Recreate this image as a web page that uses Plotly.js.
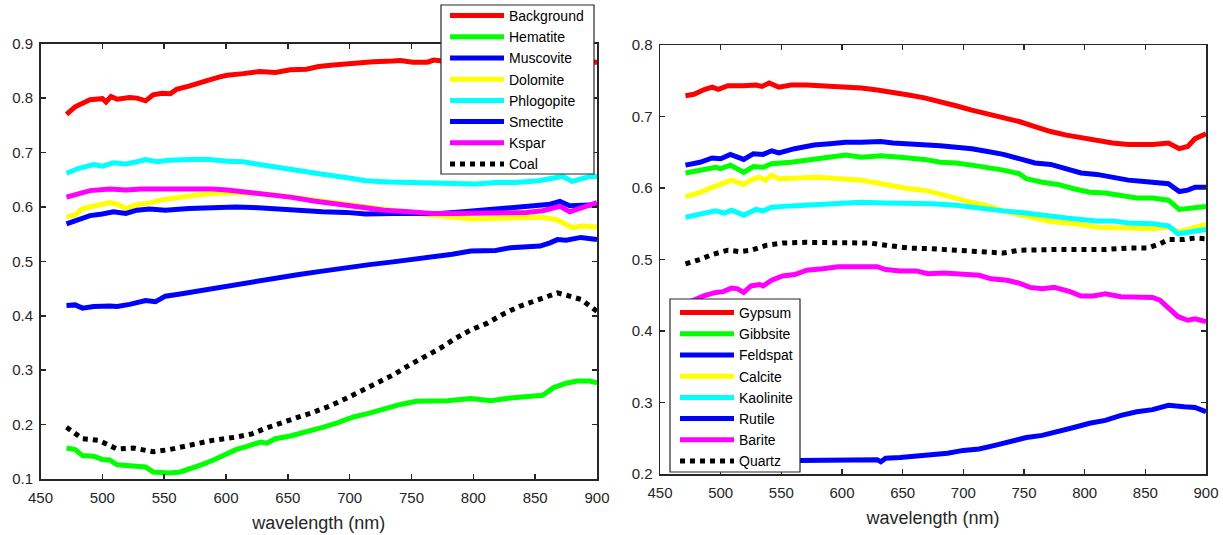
<!DOCTYPE html>
<html>
<head>
<meta charset="utf-8">
<script src="https://cdn.plot.ly/plotly-3.0.1.min.js"></script>
<style>
html,body{margin:0;padding:0;background:#fff;}
#chart{width:1223px;height:535px;}
</style>
</head>
<body>
<div id="chart"></div>
<script>
// ---------- Left panel data ----------
const backgroundX = [471,478,490,500,503,507,512,522,528,535,541,548,555,560,570,576,586,595,601,614,627,640,652,665,675,687,703,719,735,741,751,763,768,780,800,820,840,860,880,900];
const backgroundY = [0.770,0.784,0.797,0.799,0.793,0.803,0.798,0.801,0.800,0.795,0.806,0.809,0.808,0.816,0.822,0.827,0.833,0.839,0.842,0.845,0.849,0.847,0.852,0.853,0.858,0.861,0.865,0.867,0.868,0.869,0.866,0.866,0.870,0.867,0.868,0.867,0.868,0.869,0.867,0.866];

const hematiteX = [471,478,484,493,500,506,512,522,535,541,547,554,563,570,580,589,598,608,617,628,633,640,652,665,678,690,703,716,728,741,754,767,779,798,814,830,843,856,865,875,884,894,900];
const hematiteY = [0.157,0.154,0.143,0.142,0.136,0.135,0.126,0.124,0.122,0.113,0.111,0.111,0.113,0.118,0.126,0.134,0.144,0.154,0.160,0.168,0.166,0.174,0.179,0.186,0.195,0.203,0.214,0.221,0.229,0.237,0.243,0.243,0.244,0.248,0.244,0.249,0.252,0.254,0.268,0.276,0.280,0.280,0.277];

const muscoviteX = [471,478,484,493,506,512,522,535,543,551,563,576,589,601,614,630,640,659,678,697,716,735,754,767,783,798,818,830,843,854,862,868,875,887,900];
const muscoviteY = [0.419,0.420,0.414,0.417,0.418,0.417,0.421,0.428,0.426,0.436,0.440,0.445,0.450,0.455,0.460,0.465,0.470,0.476,0.482,0.489,0.494,0.499,0.504,0.507,0.513,0.519,0.520,0.525,0.527,0.528,0.534,0.540,0.539,0.544,0.540];

const dolomiteX = [471,478,484,497,506,512,519,528,538,548,563,576,595,608,621,640,659,678,697,716,735,754,773,792,798,818,837,856,868,880,887,900];
const dolomiteY = [0.582,0.585,0.597,0.604,0.608,0.605,0.597,0.604,0.607,0.613,0.618,0.622,0.625,0.626,0.626,0.622,0.616,0.611,0.605,0.599,0.593,0.588,0.584,0.581,0.578,0.579,0.579,0.581,0.576,0.562,0.565,0.563];

const phlogopiteX = [471,481,493,500,509,519,528,535,544,554,570,586,601,614,627,646,665,678,697,713,732,751,770,786,802,818,834,853,868,872,880,887,894,900];
const phlogopiteY = [0.662,0.671,0.678,0.675,0.681,0.679,0.683,0.687,0.683,0.686,0.687,0.687,0.684,0.683,0.678,0.671,0.663,0.660,0.654,0.648,0.646,0.645,0.642,0.643,0.642,0.645,0.645,0.648,0.654,0.656,0.647,0.651,0.656,0.656];

const smectiteX = [471,481,490,500,509,519,528,538,551,570,589,608,621,640,659,678,697,713,735,754,773,792,811,830,849,862,870,878,887,900];
const smectiteY = [0.569,0.576,0.584,0.587,0.591,0.588,0.594,0.596,0.594,0.597,0.599,0.600,0.599,0.596,0.593,0.591,0.590,0.587,0.588,0.588,0.588,0.591,0.594,0.597,0.602,0.605,0.610,0.602,0.602,0.604];

const ksparX = [471,481,490,506,519,532,544,557,570,589,601,614,633,652,671,691,709,728,748,767,786,805,824,843,856,870,878,887,900];
const ksparY = [0.618,0.625,0.630,0.633,0.631,0.633,0.633,0.635,0.634,0.633,0.631,0.628,0.623,0.618,0.611,0.605,0.599,0.594,0.591,0.588,0.588,0.588,0.588,0.590,0.593,0.601,0.591,0.597,0.608];

const coalX = [471,484,497,512,525,541,554,570,589,608,621,633,646,659,671,684,697,709,722,735,748,760,773,786,798,811,824,837,849,862,868,878,887,900];
const coalY = [0.195,0.174,0.171,0.155,0.157,0.150,0.154,0.162,0.171,0.177,0.183,0.194,0.205,0.214,0.223,0.234,0.248,0.261,0.276,0.291,0.309,0.323,0.340,0.359,0.374,0.386,0.403,0.417,0.426,0.436,0.442,0.436,0.430,0.408];

// ---------- Right panel data ----------
const gypsumX = [471,478,487,493,498,506,519,529,534,540,548,558,571,590,603,616,629,642,655,668,681,694,707,720,733,746,759,772,785,797,810,823,836,856,869,878,885,891,900];
const gypsumY = [0.729,0.731,0.738,0.741,0.738,0.743,0.743,0.744,0.742,0.747,0.741,0.744,0.744,0.743,0.742,0.740,0.737,0.734,0.730,0.726,0.721,0.715,0.709,0.704,0.698,0.693,0.686,0.679,0.674,0.670,0.666,0.663,0.661,0.661,0.663,0.655,0.658,0.669,0.676];

const gibbsiteX = [471,483,496,500,508,519,527,535,542,558,577,590,603,616,632,648,668,681,694,707,720,733,746,752,765,778,791,804,817,830,843,856,869,878,887,900];
const gibbsiteY = [0.621,0.625,0.629,0.627,0.632,0.622,0.630,0.629,0.634,0.636,0.640,0.642,0.646,0.643,0.645,0.643,0.640,0.636,0.635,0.632,0.629,0.625,0.620,0.613,0.608,0.605,0.599,0.594,0.593,0.589,0.586,0.586,0.583,0.570,0.571,0.574];

const feldspatX = [471,483,493,500,508,519,527,535,542,548,561,577,590,603,616,632,642,655,668,681,694,707,720,733,746,759,772,785,797,810,823,836,849,862,869,878,885,891,900];
const feldspatY = [0.632,0.636,0.642,0.641,0.647,0.640,0.648,0.647,0.652,0.649,0.655,0.660,0.662,0.664,0.664,0.665,0.663,0.662,0.660,0.659,0.657,0.655,0.651,0.647,0.641,0.635,0.633,0.627,0.621,0.619,0.615,0.611,0.609,0.607,0.606,0.595,0.597,0.601,0.601];

const calciteX = [471,483,493,503,509,519,525,532,537,542,548,564,577,590,603,616,629,642,655,668,681,694,707,720,733,746,759,772,785,797,810,823,840,856,869,878,887,900];
const calciteY = [0.588,0.594,0.601,0.607,0.611,0.605,0.611,0.615,0.611,0.618,0.613,0.614,0.615,0.614,0.613,0.611,0.607,0.603,0.599,0.597,0.591,0.585,0.580,0.575,0.568,0.563,0.558,0.553,0.551,0.549,0.545,0.544,0.543,0.543,0.545,0.539,0.543,0.549];

const kaoliniteX = [471,483,496,503,509,519,529,535,542,558,577,590,603,616,636,655,674,694,707,720,733,746,759,772,785,797,810,823,836,856,869,877,887,900];
const kaoliniteY = [0.559,0.563,0.568,0.565,0.569,0.562,0.570,0.568,0.573,0.575,0.577,0.579,0.580,0.580,0.579,0.579,0.578,0.576,0.573,0.571,0.568,0.566,0.563,0.561,0.558,0.556,0.554,0.554,0.551,0.550,0.547,0.536,0.538,0.542];

const rutileX = [471,490,510,530,550,565,577,590,603,613,629,632,636,648,661,674,687,700,713,726,739,752,765,778,791,804,817,830,843,856,869,882,891,900];
const rutileY = [0.222,0.221,0.220,0.220,0.219,0.219,0.219,0.219,0.220,0.220,0.220,0.217,0.222,0.223,0.225,0.227,0.229,0.233,0.235,0.240,0.245,0.251,0.254,0.259,0.265,0.271,0.275,0.282,0.287,0.290,0.296,0.294,0.293,0.287];

const bariteX = [471,477,486,496,502,509,514,519,525,532,535,542,551,561,571,584,597,606,619,629,636,648,661,671,684,697,713,723,736,746,755,765,775,788,797,807,817,830,843,856,862,869,877,885,891,900];
const bariteY = [0.438,0.443,0.449,0.454,0.455,0.460,0.459,0.454,0.463,0.465,0.463,0.471,0.477,0.479,0.485,0.487,0.490,0.490,0.490,0.490,0.486,0.484,0.484,0.480,0.481,0.479,0.478,0.473,0.471,0.467,0.461,0.459,0.461,0.455,0.449,0.449,0.452,0.448,0.448,0.447,0.443,0.433,0.420,0.415,0.417,0.413];

const quartzX = [471,483,493,506,516,525,538,551,571,590,606,623,636,655,674,694,713,733,746,759,778,797,817,836,852,862,869,882,891,900];
const quartzY = [0.494,0.500,0.507,0.513,0.511,0.513,0.520,0.523,0.524,0.524,0.524,0.523,0.520,0.516,0.515,0.513,0.510,0.509,0.513,0.514,0.514,0.514,0.514,0.516,0.516,0.522,0.528,0.528,0.530,0.529];

const leftNames  = ['Background','Hematite','Muscovite','Dolomite','Phlogopite','Smectite','Kspar','Coal'];
const rightNames = ['Gypsum','Gibbsite','Feldspat','Calcite','Kaolinite','Rutile','Barite','Quartz'];
const seriesColors = ['#FF0000','#00FF00','#0000FF','#FFFF00','#00FFFF','#0000FF','#FF00FF','#000000'];

const leftData = [[backgroundX,backgroundY],[hematiteX,hematiteY],[muscoviteX,muscoviteY],[dolomiteX,dolomiteY],[phlogopiteX,phlogopiteY],[smectiteX,smectiteY],[ksparX,ksparY],[coalX,coalY]];
const rightData = [[gypsumX,gypsumY],[gibbsiteX,gibbsiteY],[feldspatX,feldspatY],[calciteX,calciteY],[kaoliniteX,kaoliniteY],[rutileX,rutileY],[bariteX,bariteY],[quartzX,quartzY]];

const LW = 5;
const traces = [];
leftData.forEach((d,i)=>{
  traces.push({x:d[0],y:d[1],name:leftNames[i],type:'scatter',mode:'lines',
    xaxis:'x',yaxis:'y',legend:'legend',
    line:{color:seriesColors[i],width:LW,dash:i===7?'dot':'solid'}});
});
rightData.forEach((d,i)=>{
  traces.push({x:d[0],y:d[1],name:rightNames[i],type:'scatter',mode:'lines',
    xaxis:'x2',yaxis:'y2',legend:'legend2',
    line:{color:seriesColors[i],width:LW,dash:i===7?'dot':'solid'}});
});

const FONT = 'Liberation Sans, Arial, Helvetica, sans-serif';
const AX = '#262626';
function xAxis(domain, anchor){
  return {domain:domain, anchor:anchor, range:[450,900], tick0:450, dtick:50,
    showgrid:false, zeroline:false, showline:true, mirror:'ticks', linecolor:AX, linewidth:1.5,
    ticks:'inside', ticklen:5, tickwidth:1.5, tickcolor:AX, ticklabelstandoff:4,
    tickfont:{family:FONT,size:15,color:AX},
    title:{text:'wavelength (nm)', font:{family:FONT,size:18,color:AX}, standoff:12}};
}
function yAxis(domain, anchor, range){
  return {domain:domain, anchor:anchor, range:range, tick0:0, dtick:0.1,
    showgrid:false, zeroline:false, showline:true, mirror:'ticks', linecolor:AX, linewidth:1.5,
    ticks:'inside', ticklen:5, tickwidth:1.5, tickcolor:AX, ticklabelstandoff:3,
    tickfont:{family:FONT,size:15,color:AX}};
}

const W = 1223, H = 535;
function box(x0,x1,y0,y1){
  return {type:'rect', xref:'paper', yref:'paper', layer:'above',
    x0:x0/W, x1:x1/W, y0:1-y1/H, y1:1-y0/H,
    fillcolor:'#fff', line:{color:AX,width:1.2}};
}
function legendCfg(x,y){
  return {x:x/W, y:1-y/H, xanchor:'left', yanchor:'top', bgcolor:'rgba(0,0,0,0)',
    borderwidth:0, font:{family:FONT,size:14,color:'#000'},
    itemwidth:54, tracegroupgap:0};
}
const layout = {
  width:W, height:H,
  margin:{l:0,r:0,t:0,b:0},
  paper_bgcolor:'#fff', plot_bgcolor:'#fff',
  font:{family:FONT,color:AX},
  showlegend:true,
  xaxis: xAxis([40.5/W, 597/W], 'y'),
  yaxis: yAxis([1-479/H, 1-43.7/H], 'x', [0.1,0.9]),
  xaxis2: xAxis([660/W, 1206/W], 'y2'),
  yaxis2: yAxis([1-474/H, 1-45/H], 'x2', [0.2,0.8]),
  shapes:[box(441,594,5,174), box(670,800,299,472)],
  legend: legendCfg(445,0),
  legend2: legendCfg(675,297)
};

Plotly.newPlot('chart', traces, layout, {displayModeBar:false, staticPlot:true});
</script>
</body>
</html>
